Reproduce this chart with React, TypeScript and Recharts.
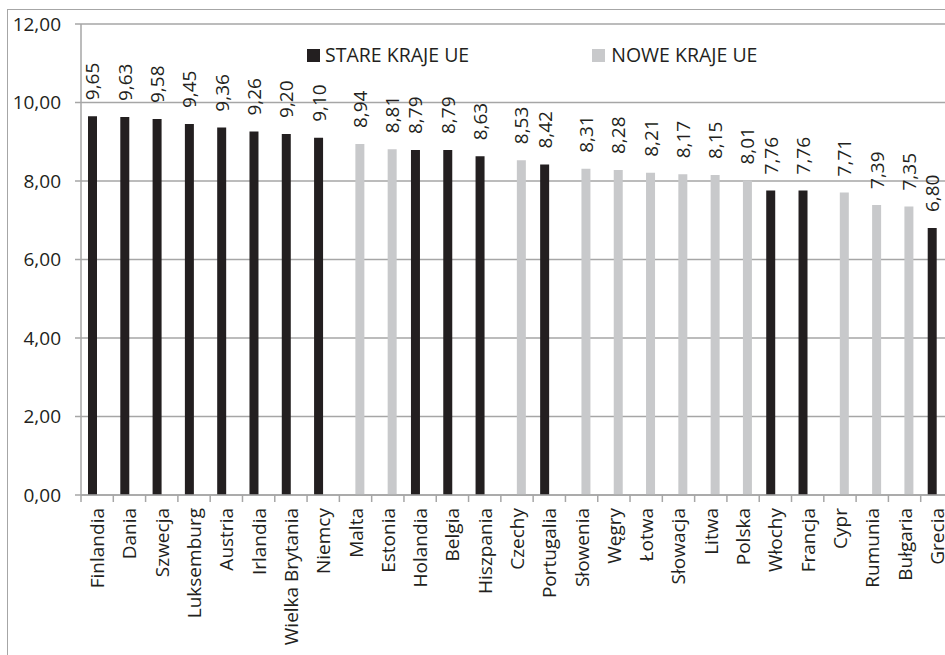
import React from 'react'
import { BarChart, Bar, XAxis, YAxis, CartesianGrid, LabelList } from 'recharts'

// Countries in ranking order, one value per series (null where the country is in the other group)
const countries = [
  'Finlandia', 'Dania', 'Szwecja', 'Luksemburg', 'Austria', 'Irlandia', 'Wielka Brytania', 'Niemcy',
  'Malta', 'Estonia', 'Holandia', 'Belgia', 'Hiszpania', 'Czechy', 'Portugalia', 'Słowenia',
  'Węgry', 'Łotwa', 'Słowacja', 'Litwa', 'Polska', 'Włochy', 'Francja', 'Cypr', 'Rumunia',
  'Bułgaria', 'Grecia',
]
const oldMembers = [
  9.65, 9.63, 9.58, 9.45, 9.36, 9.26, 9.2, 9.1,
  null, null, 8.79, 8.79, 8.63, null, 8.42, null,
  null, null, null, null, null, 7.76, 7.76, null, null,
  null, 6.8,
]
const newMembers = [
  null, null, null, null, null, null, null, null,
  8.94, 8.81, null, null, null, 8.53, null, 8.31,
  8.28, 8.21, 8.17, 8.15, 8.01, null, null, 7.71, 7.39,
  7.35, null,
]
const yTicks = [0, 2, 4, 6, 8, 10, 12]
const seriesNames = ['STARE KRAJE UE', 'NOWE KRAJE UE']

const data = countries.map((name, i) => ({ name, stare: oldMembers[i], nowe: newMembers[i] }))

const FONT = '"Open Sans", sans-serif'
const FONT_SIZE = 19
const TEXT = '#231f20'
const GRID = '#a6a6a6'
const DARK = '#231f20'
const LIGHT = '#c8c9cb'

const CHART_W = 968
const CHART_H = 655
const MARGIN = { top: 24, right: 15, bottom: 0, left: 0 }
const Y_WIDTH = 81
const BAND = (CHART_W - MARGIN.left - MARGIN.right - Y_WIDTH) / countries.length

const fmt = (v: number) => v.toFixed(2).replace('.', ',')

const CategoryTick = (props: any) => {
  const { x, y, payload, index } = props
  const axisY = y - 13
  return (
    <g>
      <line x1={x - BAND / 2} x2={x - BAND / 2} y1={axisY} y2={axisY + 7} stroke={GRID} strokeWidth={1.5} />
      {index === countries.length - 1 && (
        <line x1={x + BAND / 2} x2={x + BAND / 2} y1={axisY} y2={axisY + 7} stroke={GRID} strokeWidth={1.5} />
      )}
      <text
        x={x}
        y={y}
        transform={`rotate(-90, ${x}, ${y})`}
        textAnchor="end"
        dominantBaseline="central"
        fontFamily={FONT}
        fontSize={FONT_SIZE}
        fill={TEXT}
      >
        {payload.value}
      </text>
    </g>
  )
}

const ValueLabel = (props: any) => {
  const { x, y, width, value } = props
  if (value === null || value === undefined) return null
  const cx = x + width / 2
  const ty = y - 16
  return (
    <text
      x={cx}
      y={ty}
      transform={`rotate(-90, ${cx}, ${ty})`}
      textAnchor="start"
      dominantBaseline="central"
      fontFamily={FONT}
      fontSize={FONT_SIZE}
      fill={TEXT}
    >
      {fmt(value)}
    </text>
  )
}

// Legend sits inside the plot area, so it is laid over the chart instead of taking space from it
const LegendBox = () => (
  <div
    style={{
      position: 'absolute', left: 307, top: 44, display: 'flex', alignItems: 'center',
      fontFamily: FONT, fontSize: 19.5, color: TEXT, lineHeight: '22px',
    }}
  >
    <span style={{ width: 13, height: 13, background: DARK, display: 'inline-block', marginRight: 5 }} />
    <span>{seriesNames[0]}</span>
    <span style={{ width: 13, height: 13, background: LIGHT, display: 'inline-block', marginLeft: 123, marginRight: 6 }} />
    <span>{seriesNames[1]}</span>
  </div>
)

export default function App() {
  return (
    <div style={{ position: 'absolute', left: 0, top: 0, width: 945, height: 655, overflow: 'hidden', background: '#fff' }}>
      <div
        style={{
          position: 'absolute', left: 7, top: 9, width: 1000, height: 700,
          border: `1px solid ${GRID}`, boxSizing: 'border-box',
        }}
      />
      <div style={{ position: 'absolute', left: 0, top: 0 }}>
        <BarChart
          width={CHART_W}
          height={CHART_H}
          data={data}
          margin={MARGIN}
          barSize={9}
          barGap={0}
        >
          <CartesianGrid horizontal vertical={false} stroke={GRID} strokeWidth={1.5} />
          <XAxis
            dataKey="name"
            interval={0}
            height={CHART_H - 495}
            axisLine={{ stroke: GRID, strokeWidth: 1.5 }}
            tickLine={false}
            tickSize={7}
            tickMargin={6}
            tick={<CategoryTick />}
          />
          <YAxis
            width={Y_WIDTH}
            domain={[0, 12]}
            ticks={yTicks}
            interval={0}
            tickFormatter={fmt}
            axisLine={{ stroke: GRID, strokeWidth: 1.5 }}
            tickLine={{ stroke: GRID, strokeWidth: 1.5 }}
            tickSize={6}
            tickMargin={14}
            tick={{ fontFamily: FONT, fontSize: FONT_SIZE, fill: TEXT }}
          />
          <Bar dataKey="stare" name={seriesNames[0]} fill={DARK} isAnimationActive={false}>
            <LabelList dataKey="stare" content={<ValueLabel />} />
          </Bar>
          <Bar dataKey="nowe" name={seriesNames[1]} fill={LIGHT} isAnimationActive={false}>
            <LabelList dataKey="nowe" content={<ValueLabel />} />
          </Bar>
        </BarChart>
      </div>
      <LegendBox />
    </div>
  )
}
